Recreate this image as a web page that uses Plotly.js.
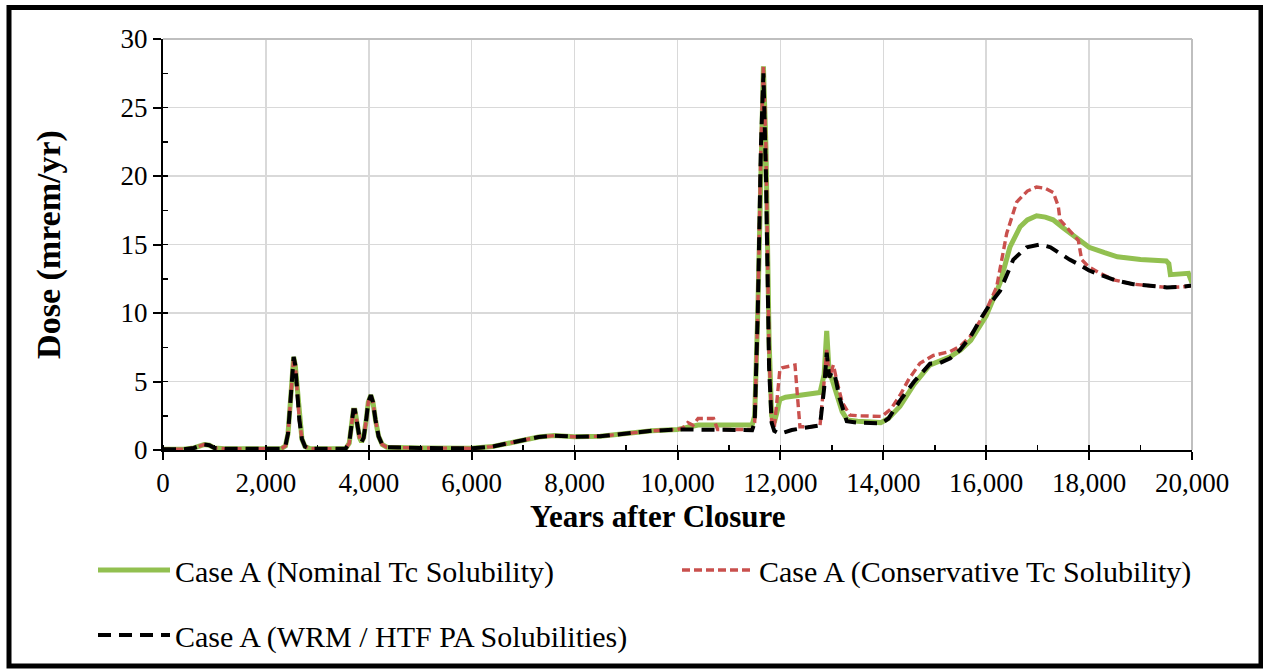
<!DOCTYPE html>
<html>
<head>
<meta charset="utf-8">
<script src="https://cdn.plot.ly/plotly-3.0.1.min.js"></script>
<style>
html,body{margin:0;padding:0;background:#fff;}
#chart{width:1263px;height:669px;}
</style>
</head>
<body>
<div id="chart"></div>
<script>
// Shared early history (0 - 10,000 yr)
const earlyYears = [0,400,600,700,800,900,1000,1200,2000,2250,2300,2380,2430,2470,2510,2540,2570,2610,2650,2700,2760,2850,3000,3550,3620,3660,3700,3730,3770,3820,3860,3900,3950,3990,4040,4080,4130,4190,4260,4350,5000,6000,6400,6700,7000,7300,7600,7800,8000,8500,9000,9500,10000];
const earlyDose  = [0.05,0.05,0.15,0.3,0.4,0.35,0.15,0.1,0.1,0.1,0.1,0.3,1.2,3.2,5.8,6.8,6.2,4.2,2.2,0.8,0.25,0.1,0.1,0.1,0.5,1.6,2.9,2.9,2.0,0.9,0.6,0.9,2.2,3.5,4.0,3.5,2.2,1.0,0.4,0.2,0.15,0.12,0.25,0.5,0.75,0.95,1.05,1.02,0.97,1.0,1.2,1.4,1.5];

// Case A (Nominal Tc Solubility), after 10,000 yr
const nominalYears = [10200,10400,11450,11500,11560,11620,11670,11720,11780,11830,11880,11930,11990,12100,12400,12770,12850,12900,12950,13000,13100,13200,13300,13500,13950,14100,14325,14600,14900,15100,15300,15500,15700,16000,16270,16460,16660,16800,16980,17150,17300,17500,17700,18000,18300,18550,19000,19500,19550,19580,19930,20000];
const nominalDose  = [1.7,1.82,1.82,2.5,10,22,28,22,8,2.5,2.0,2.7,3.7,3.85,4.0,4.2,5.5,8.7,5.5,5.2,4.0,2.8,2.2,2.1,2.0,2.3,3.2,4.8,6.2,6.5,6.8,7.3,8.0,9.8,12.2,14.8,16.3,16.8,17.1,17.0,16.8,16.2,15.6,14.8,14.4,14.1,13.9,13.8,13.6,12.8,12.9,12.2];

// Case A (Conservative Tc Solubility), after 10,000 yr
const conservativeYears = [10100,10200,10300,10400,10700,10780,11450,11500,11560,11620,11670,11720,11780,11830,11880,11930,11990,12030,12284,12330,12380,12600,12770,12850,12900,12950,13030,13100,13200,13350,13500,13970,14150,14325,14500,14713,14972,15296,15500,15685,15977,16203,16398,16592,16800,16980,17150,17304,17401,17434,17600,17790,17855,17983,18212,18500,18860,19200,19508,19800,20000];
const conservativeDose  = [1.6,2.0,1.8,2.3,2.3,1.5,1.5,2.0,10,22,28,22,7,2.0,1.6,3.5,5.9,6.0,6.2,4.0,1.7,1.7,1.8,5.0,7.3,5.3,6.2,5.0,3.5,2.55,2.5,2.45,3.0,4.0,5.2,6.33,6.9,7.18,7.6,8.27,10.0,11.9,15.8,18.1,18.9,19.2,19.1,18.8,17.8,16.8,16.1,15.3,13.9,13.4,12.9,12.4,12.1,11.95,11.87,11.9,12.0];

// Case A (WRM / HTF PA Solubilities), after 10,000 yr
const wrmYears = [11450,11500,11560,11620,11670,11720,11780,11830,11880,11930,12000,12220,12500,12770,12850,12900,12950,13000,13050,13150,13290,13500,13970,14100,14325,14600,14908,15100,15300,15490,15700,15880,16100,16268,16527,16786,17046,17250,17434,17620,17823,18000,18212,18500,18860,19200,19508,19800,20000];
const wrmDose  = [1.45,2.0,10,22,27.5,20,6,2.0,1.4,1.3,1.2,1.46,1.6,1.8,4.5,7.1,5.3,5.7,5.6,3.8,2.1,2.0,1.95,2.3,3.6,5.0,6.3,6.35,6.7,7.3,8.3,9.5,10.8,11.6,13.9,14.8,15.0,14.8,14.35,13.9,13.5,13.1,12.8,12.4,12.1,11.95,11.87,11.9,12.0];

const seriesNames = ["Case A (Nominal Tc Solubility)", "Case A (Conservative Tc Solubility)", "Case A (WRM / HTF PA Solubilities)"];
const xTickVals = [0,2000,4000,6000,8000,10000,12000,14000,16000,18000,20000];
const yTickVals = [0,5,10,15,20,25,30];
const xTitle = 'Years after Closure';
const yTitle = 'Dose (mrem/yr)';

const FONT = "'Liberation Serif', 'Times New Roman', serif";

const traces = [
  {x: earlyYears.concat(nominalYears), y: earlyDose.concat(nominalDose), name: seriesNames[0],
   type: 'scatter', mode: 'lines', line: {color: '#92C050', width: 5}, legend: 'legend'},
  {x: earlyYears.concat(conservativeYears), y: earlyDose.concat(conservativeDose), name: seriesNames[1],
   type: 'scatter', mode: 'lines', line: {color: '#C9504D', width: 3.4, dash: '8px,4px'}, legend: 'legend2'},
  {x: earlyYears.concat(wrmYears), y: earlyDose.concat(wrmDose), name: seriesNames[2],
   type: 'scatter', mode: 'lines', line: {color: '#000000', width: 4, dash: '13px,8px'}, legend: 'legend3'}
];

const legendBase = {orientation: 'h', xref: 'container', yref: 'container', xanchor: 'left', yanchor: 'middle',
  font: {family: FONT, size: 30, color: '#000'}, itemwidth: 72, bgcolor: 'rgba(0,0,0,0)', borderwidth: 0};

const layout = {
  width: 1263, height: 669,
  margin: {l: 163, r: 71, t: 39, b: 219},
  paper_bgcolor: '#fff', plot_bgcolor: '#fff',
  showlegend: true,
  font: {family: FONT, size: 27, color: '#000'},
  xaxis: {
    range: [0, 20000], tickvals: xTickVals, tickformat: ',d',
    showline: true, linecolor: '#000', linewidth: 2,
    ticks: 'outside', ticklen: 8, tickwidth: 2, tickcolor: '#000',
    minor: {dtick: 1000, ticks: 'inside', ticklen: 5, tickwidth: 1.5, tickcolor: '#000', showgrid: false},
    showgrid: true, gridcolor: '#d9d9d9', gridwidth: 1.5, zeroline: false,
    tickfont: {family: FONT, size: 27, color: '#000'}
  },
  yaxis: {
    range: [0, 30], tickvals: yTickVals,
    showline: true, linecolor: '#000', linewidth: 2,
    ticks: 'outside', ticklen: 8, tickwidth: 2, tickcolor: '#000',
    minor: {dtick: 2.5, ticks: 'inside', ticklen: 5, tickwidth: 1.5, tickcolor: '#000', showgrid: false},
    showgrid: true, gridcolor: '#d9d9d9', gridwidth: 1.5, zeroline: false,
    tickfont: {family: FONT, size: 27, color: '#000'},
    title: {text: yTitle, font: {family: FONT, size: 34, color: '#000', weight: 'bold'}, standoff: 50}
  },
  annotations: [
    {text: xTitle, xref: 'paper', yref: 'paper', x: (657 - 163) / 1029, y: (450 - 516) / 411,
     xanchor: 'center', yanchor: 'middle', showarrow: false,
     font: {family: FONT, size: 31, color: '#000', weight: 'bold'}}
  ],
  legend: Object.assign({}, legendBase, {x: 93/1263, y: 1 - 570/669}),
  legend2: Object.assign({}, legendBase, {x: 677/1263, y: 1 - 570/669}),
  legend3: Object.assign({}, legendBase, {x: 93/1263, y: 1 - 635/669}),
  shapes: [
    {type: 'line', xref: 'paper', yref: 'paper', x0: 0, x1: 1, y0: 1, y1: 1, line: {color: '#bfbfbf', width: 2}},
    {type: 'line', xref: 'paper', yref: 'paper', x0: 1, x1: 1, y0: 0, y1: 1, line: {color: '#bfbfbf', width: 2}},
    {type: 'rect', xref: 'paper', yref: 'paper',
     x0: (9 - 163) / 1029, x1: (1261 - 163) / 1029, y0: (450 - 666) / 411, y1: (450 - 7.5) / 411,
     line: {color: '#000', width: 5}, fillcolor: 'rgba(0,0,0,0)', layer: 'above'}
  ]
};

Plotly.newPlot('chart', traces, layout, {displayModeBar: false, staticPlot: true});
</script>
</body>
</html>
